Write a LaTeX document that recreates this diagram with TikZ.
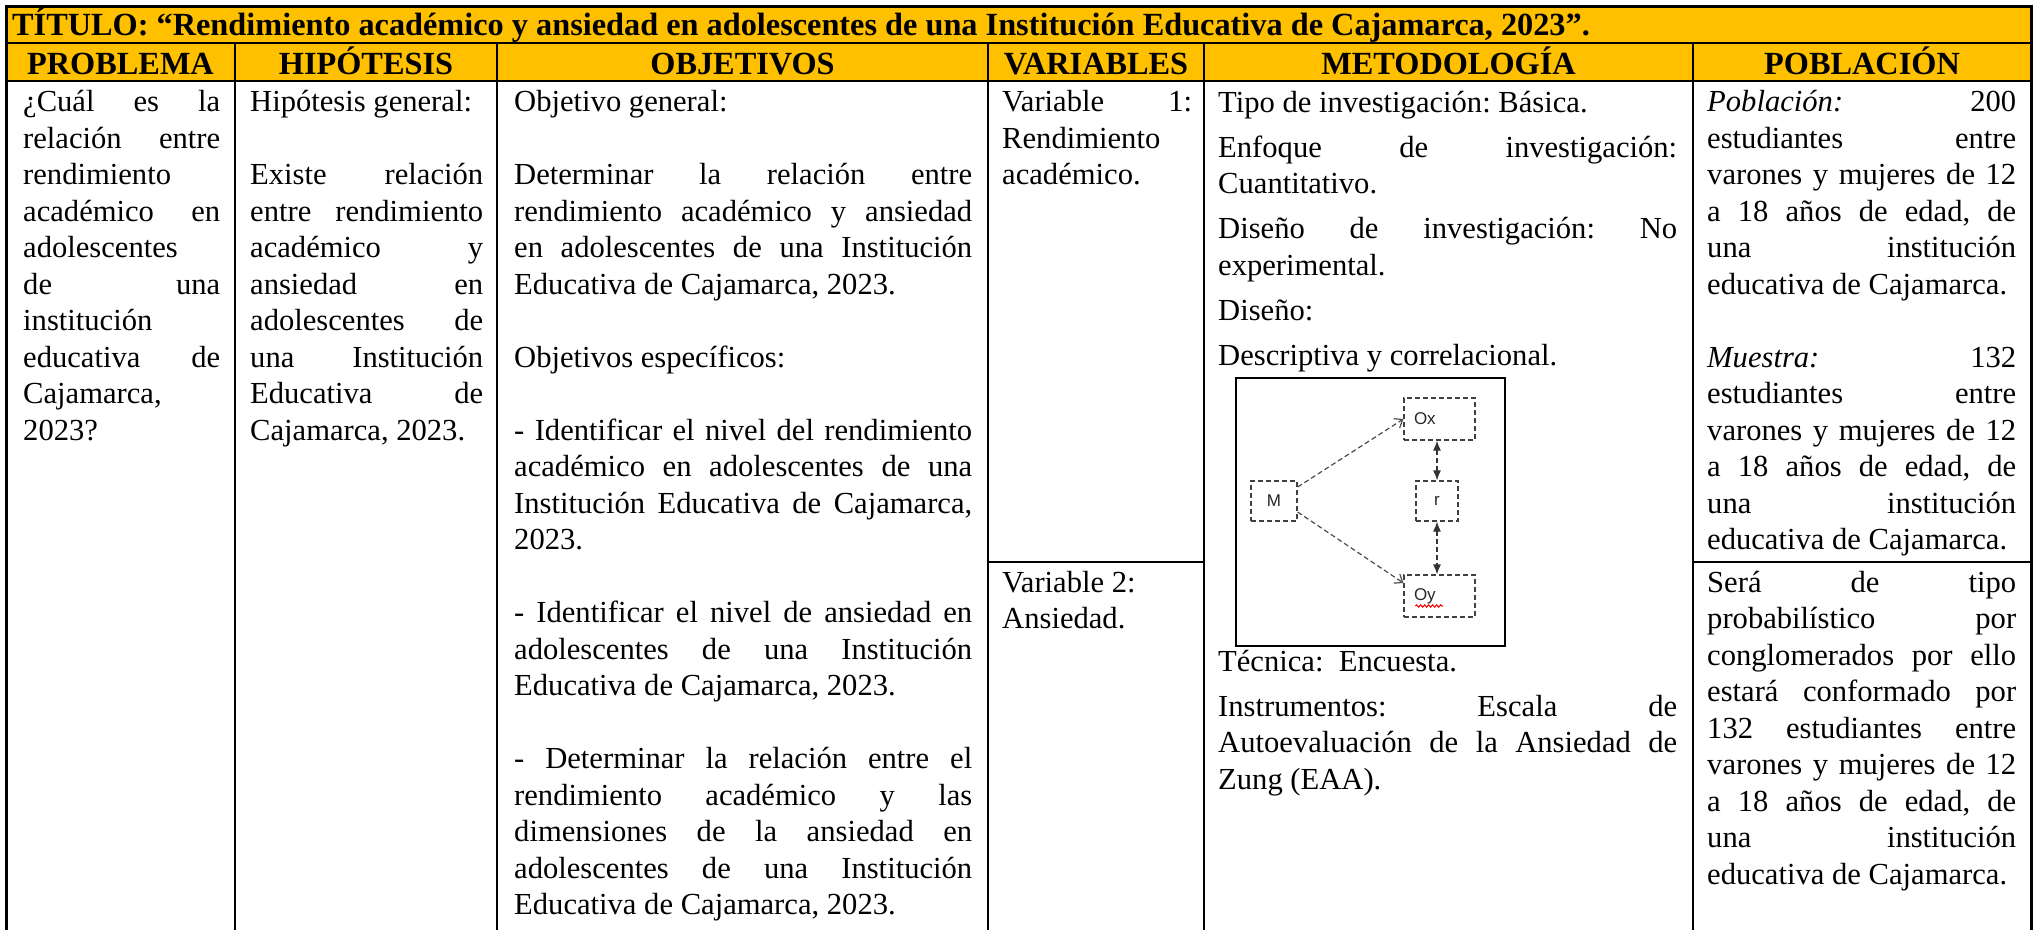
\documentclass[tikz,border=0pt]{standalone}
\usepackage{fontspec}
\setmainfont{Liberation Serif}
\setsansfont{Liberation Sans}
\usepackage{xcolor}
\usetikzlibrary{arrows.meta, calc, decorations.pathmorphing}

\definecolor{titleyellow}{HTML}{FFC000}
\frenchspacing
\hyphenpenalty=10000
\exhyphenpenalty=10000
\newcommand\bodyfont{\fontsize{30.6}{36.5}\selectfont}
\newcommand\headfont{\fontsize{32.3}{36}\selectfont\bfseries}
\newcommand\emptyline{\\[36.5pt]}

\begin{document}
\begin{tikzpicture}[
		x=1pt, y=-1pt,
		tableline/.style={line width=2pt, draw=black},
		tableedge/.style={line width=3pt, draw=black},
		head/.style={
				font=\headfont,
				anchor=base,
				inner sep=0pt
			},
		cell/.style={
				font=\bodyfont,
				anchor=base west,
				inner sep=0pt,
				text width=#1,
				align=justify
			},
		figframe/.style={line width=1.6pt, draw=black},
		dbox/.style={
				draw=black!75,
				line width=1.2pt,
				dash pattern=on 5pt off 3pt,
				font=\sffamily\fontsize{17}{19}\selectfont,
				text=black!85,
				inner sep=0pt
			},
		dasharrow/.style={
				draw=black!70,
				line width=1.2pt,
				dash pattern=on 5pt off 3pt,
				-{Straight Barb[length=7pt,width=11pt]}
			},
		duoarrow/.style={
				draw=black!80,
				line width=1.2pt,
				dash pattern=on 5pt off 3pt,
				{Latex[length=10pt,width=8pt]}-{Latex[length=10pt,width=8pt]}
			},
		]
		
		\useasboundingbox (0,0) rectangle (2037,930);
		
		\fill[titleyellow] (6,6) rectangle (2031,81);
		
		\draw[tableline] (6,43) -- (2031,43);
		
		\draw[tableline] (6,81) -- (2031,81);
		
		\foreach \x in {235,497,988,1204,1693}
			\draw[tableline] (\x,43) -- (\x,930);
		
		\draw[tableline] (988,562) -- (1204,562);
		
		\draw[tableline] (1693,562) -- (2031,562);
		
		\draw[tableedge] (6,930) -- (6,6) -- (2031,6) -- (2031,930);
		
		\node[head, anchor=base west] (titulo) at (12,35) {TÍTULO: “Rendimiento académico y ansiedad en adolescentes de una Institución Educativa de Cajamarca, 2023”.};
		
		\node[head] (hProblema) at (120.5,74) {PROBLEMA};
		
		\node[head] (hHipotesis) at (366,74) {HIPÓTESIS};
		
		\node[head] (hObjetivos) at (742.5,74) {OBJETIVOS};
		
		\node[head] (hVariables) at (1096,74) {VARIABLES};
		
		\node[head] (hMetodologia) at (1448.5,74) {METODOLOGÍA};
		
		\node[head] (hPoblacion) at (1862,74) {POBLACIÓN};
		
		\node[cell=197pt] (problema) at (23,111.5) {¿Cuál es la\linebreak relación entre\linebreak rendimiento\\ académico en\linebreak adolescentes\\ de una\linebreak institución\\ educativa de\linebreak Cajamarca,\\ 2023?};
		
		\node[cell=233pt] (hipotesis) at (250,111.5) {Hipótesis general:\emptyline Existe relación\linebreak entre rendimiento\linebreak académico y\linebreak ansiedad en\linebreak adolescentes de\linebreak una Institución\linebreak Educativa de\linebreak Cajamarca, 2023.};
		
		\node[cell=458pt] (objetivos) at (514,111.5) {Objetivo general:\emptyline Determinar la relación entre\linebreak rendimiento académico y ansiedad\linebreak en adolescentes de una Institución\linebreak Educativa de Cajamarca, 2023.\emptyline Objetivos específicos:\emptyline - Identificar el nivel del rendimiento\linebreak académico en adolescentes de una\linebreak Institución Educativa de Cajamarca,\linebreak 2023.\emptyline - Identificar el nivel de ansiedad en\linebreak adolescentes de una Institución\linebreak Educativa de Cajamarca, 2023.\emptyline - Determinar la relación entre el\linebreak rendimiento académico y las\linebreak dimensiones de la ansiedad en\linebreak adolescentes de una Institución\linebreak Educativa de Cajamarca, 2023.};
		
		\node[cell=190pt] (variable1) at (1002,111.5) {Variable 1:\linebreak Rendimiento\\ académico.};
		
		\node[cell=190pt] (variable2) at (1002,592) {Variable 2:\\ Ansiedad.};
		
		\node[cell=459pt] (metodo) at (1218,112) {Tipo de investigación: Básica.\\[8.5pt] Enfoque de investigación:\linebreak Cuantitativo.\\[8.5pt] Diseño de investigación: No\linebreak experimental.\\[8.5pt] Diseño:\\[8.5pt] Descriptiva y correlacional.};
		
		\node[cell=459pt] (tecnica) at (1218,671) {Técnica:\ \ Encuesta.\\[8.5pt] Instrumentos: Escala de\linebreak Autoevaluación de la Ansiedad de\linebreak Zung (EAA).};
		
		\node[cell=309pt] (poblacion) at (1707,111.5) {\textit{Población:} 200\linebreak estudiantes entre\linebreak varones y mujeres de 12\linebreak a 18 años de edad, de\linebreak una institución\linebreak educativa de Cajamarca.\emptyline \textit{Muestra:} 132\linebreak estudiantes entre\linebreak varones y mujeres de 12\linebreak a 18 años de edad, de\linebreak una institución\linebreak educativa de Cajamarca.};
		
		\node[cell=309pt] (muestreo) at (1707,592) {Será de tipo\linebreak probabilístico por\linebreak conglomerados por ello\linebreak estará conformado por\linebreak 132 estudiantes entre\linebreak varones y mujeres de 12\linebreak a 18 años de edad, de\linebreak una institución\linebreak educativa de Cajamarca.};
		
		\draw[figframe] (1236,378) rectangle (1505,646);
		
		\node[dbox, minimum width=46pt, minimum height=40pt] (M) at (1274,501) {M};
		
		\node[dbox, text width=51pt, align=left, inner xsep=10pt, minimum height=42pt] (Ox) at (1439.5,419) {Ox};
		
		\node[dbox, minimum width=42pt, minimum height=40pt] (r) at (1437,501) {r};
		
		\node[dbox, text width=51pt, align=left, inner xsep=10pt, minimum height=42pt] (Oy) at (1439.5,596) {Oy};
		
		\draw[dasharrow] ([yshift=14pt]M.east) -- (Ox.west);
		
		\draw[dasharrow] ([yshift=-11pt]M.east) -- ([yshift=13pt]Oy.west);
		
		\draw[duoarrow] (Ox.south -| r.north) -- (r.north);
		
		\draw[duoarrow] (r.south) -- (Oy.north -| r.south);
		
		\draw[red, line width=1pt, decorate, decoration={snake, amplitude=1.2pt, segment length=4pt}] ([xshift=12pt,yshift=-10pt]Oy.west) -- ++(28,0);
		
	\end{tikzpicture}
\end{document}
